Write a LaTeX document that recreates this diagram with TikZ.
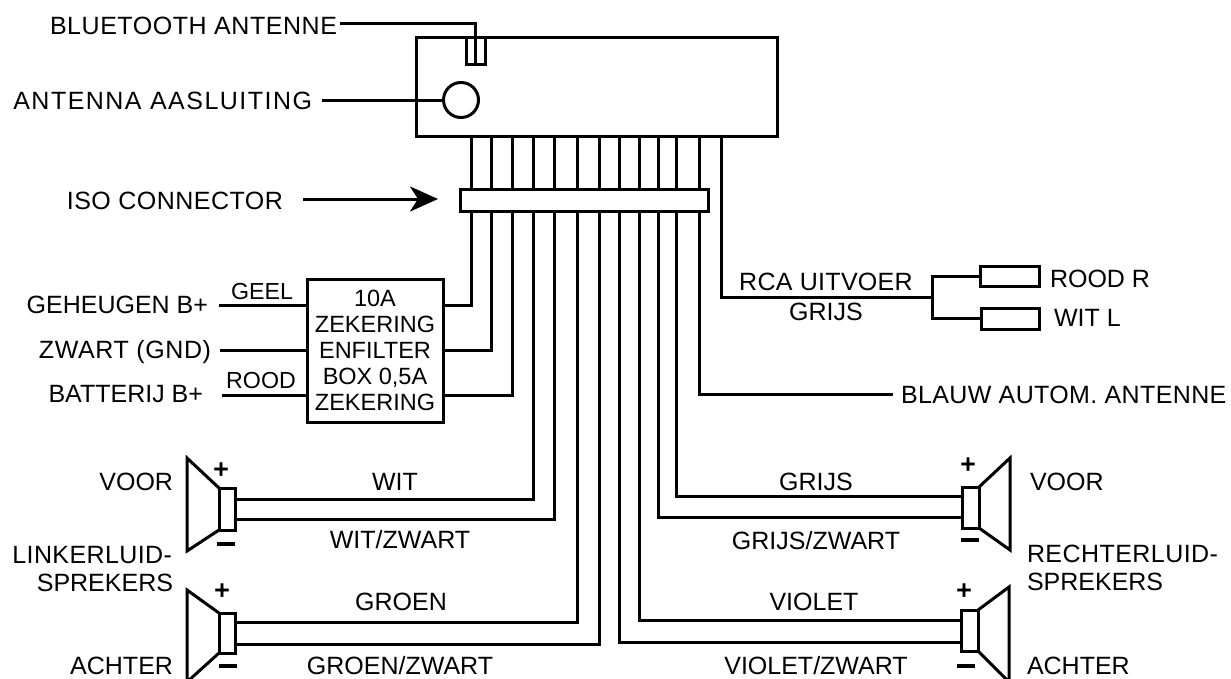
\documentclass[tikz,border=0pt]{standalone}
\usepackage{fontspec}
\setmainfont{Liberation Sans}
\newfontfamily\plusfont[FakeBold=1.5]{DejaVu Sans Bold}
\usetikzlibrary{arrows.meta,shapes.geometric}
\tikzset{
  box/.style={rectangle,draw=black},
  lab/.style={font=\fontsize{25}{25}\selectfont},
  spread/.style={font=\fontsize{25}{25}\selectfont\addfontfeature{LetterSpace=#1}},
  labsmall/.style={font=\fontsize{23.2}{23.2}\selectfont},
  plus/.style={font=\plusfont\fontsize{21}{21}\selectfont},
  minus/.style={rectangle,fill=black,minimum width=18,minimum height=3.5}
}
\begin{document}
\begin{tikzpicture}[x=1pt,y=-1pt,line width=3pt,every node/.style={inner sep=0pt,outer sep=0pt}]
\useasboundingbox (0,0) rectangle (1231,678);
% radio
\node (unit) at (596.5,86.5) [box,minimum width=361,minimum height=99] {};
\node (btplug) at (475.5,50.5) [box,minimum width=19,minimum height=27] {};
\node (antsocket) at (461,100) [circle,draw=black,minimum size=35] {};
\node (btlabel) at (337,34) [spread=2.2,anchor=base east] {BLUETOOTH ANTENNE};
\node (antlabel) at (312,109) [spread=5.9,anchor=base east] {ANTENNA AASLUITING};
\coordinate (btend) at (340,23);
\coordinate (antend) at (322,100);
\draw (btend) -| (btplug.south);
\draw (antend) -- (antsocket.west);
% fuse box
\node (fuse) at (375,350.5) [box,minimum width=136,minimum height=143,align=center,font=\fontsize{23.5}{26}\selectfont] {10A\\ZEKERING\\ENFILTER\\BOX 0,5A\\ZEKERING};
\node (geheugen) at (208,313) [lab,anchor=base east] {GEHEUGEN B+};
\node (zwart) at (211,358) [spread=2.4,anchor=base east] {ZWART (GND)};
\node (batterij) at (203,402) [lab,anchor=base east] {BATTERIJ B+};
\node (geel) at (262,299) [labsmall,anchor=base] {GEEL};
\node (rood) at (261,388) [labsmall,anchor=base] {ROOD};
\coordinate (gehend) at (219,305);
\coordinate (zwaend) at (220,350);
\coordinate (batend) at (222,395);
\draw (gehend) -- (fuse.west |- gehend);
\draw (zwaend) -- (fuse.west |- zwaend);
\draw (batend) -- (fuse.west |- batend);
% left speakers
\node (lfbox) at (227,509) [box,minimum width=16,minimum height=42] {};
\node (lrbox) at (227,633) [box,minimum width=16,minimum height=40] {};
\draw (lfbox.north west) -- (187,458) -- (187,551) -- (lfbox.south west);
\draw (lrbox.north west) -- (187,590) -- (187,682) -- (lrbox.south west);
\node (lfplus) at (221,469) [plus] {+};
\node (lrplus) at (222,590) [plus] {+};
\node (lfminus) at (226,544) [minus] {};
\node (lrminus) at (228,666) [minus] {};
\node (lfvoor) at (173,490) [lab,anchor=base east] {VOOR};
\node (llinker) at (172,563) [spread=1.6,anchor=base east] {LINKERLUID-};
\node (lsprekers) at (173,591) [lab,anchor=base east] {SPREKERS};
\node (lachter) at (173,674) [lab,anchor=base east] {ACHTER};
% right speakers
\node (rfbox) at (970.5,507.5) [box,minimum width=17,minimum height=41] {};
\node (rrbox) at (969.5,630.5) [box,minimum width=17,minimum height=41] {};
\draw (rfbox.north east) -- (1010,458) -- (1010,550) -- (rfbox.south east);
\draw (rrbox.north east) -- (1009,587) -- (1009,682) -- (rrbox.south east);
\node (rfplus) at (968,464) [plus] {+};
\node (rrplus) at (964,590) [plus] {+};
\node (rfminus) at (970,540) [minus] {};
\node (rrminus) at (966,666) [minus] {};
\node (rfvoor) at (1030,490) [lab,anchor=base west] {VOOR};
\node (rrechter) at (1027,562) [spread=1.8,anchor=base west] {RECHTERLUID-};
\node (rsprekers) at (1027,590) [lab,anchor=base west] {SPREKERS};
\node (rachter) at (1027,674) [lab,anchor=base west] {ACHTER};
% rca plugs
\node (rcar) at (1009.5,276) [box,minimum width=59,minimum height=20] {};
\node (rcal) at (1010,318.5) [box,minimum width=58,minimum height=21] {};
\coordinate (rcafork) at (932,297);
\draw (rcafork) |- (rcar.west);
\draw (rcafork) |- (rcal.west);
\node (rcatop) at (826,290) [spread=1.2,anchor=base] {RCA UITVOER};
\node (rcabot) at (826,320) [lab,anchor=base] {GRIJS};
\node (roodr) at (1050,287) [lab,anchor=base west] {ROOD R};
\node (witl) at (1054,326) [lab,anchor=base west] {WIT L};
% wires
\draw (unit.south -| 471,0) |- (fuse.east |- 0,305);
\draw (unit.south -| 491,0) |- (fuse.east |- 0,350);
\draw (unit.south -| 512,0) |- (fuse.east |- 0,395);
\draw (unit.south -| 533,0) |- (lfbox.east |- 0,499);
\draw (unit.south -| 554,0) |- (lfbox.east |- 0,519);
\draw (unit.south -| 577,0) |- (lrbox.east |- 0,622);
\draw (unit.south -| 599,0) |- (lrbox.east |- 0,644);
\draw (unit.south -| 619,0) |- (rrbox.west |- 0,642);
\draw (unit.south -| 639,0) |- (rrbox.west |- 0,620);
\draw (unit.south -| 658,0) |- (rfbox.west |- 0,517);
\draw (unit.south -| 676,0) |- (rfbox.west |- 0,496);
\coordinate (blauwend) at (893,394);
\draw (unit.south -| 699,0) |- (blauwend);
\draw (unit.south -| 721,0) |- (rcafork);
\node (blauw) at (901,403) [spread=1.5,anchor=base west] {BLAUW AUTOM. ANTENNE};
% iso connector
\node (iso) at (584,200) [box,fill=white,minimum width=248,minimum height=22] {};
\node (isolabel) at (283,209) [spread=2,anchor=base east] {ISO CONNECTOR};
\coordinate (isostart) at (303,199);
\coordinate (isotip) at (438,199);
\draw[-{Stealth[length=28pt,width=25pt,inset=8pt]}] (isostart) -- (isotip);
% wire labels
\node (wit) at (395,490) [lab,anchor=base] {WIT};
\node (witz) at (400,548) [lab,anchor=base] {WIT/ZWART};
\node (groen) at (401,610) [lab,anchor=base] {GROEN};
\node (groenz) at (400,674) [lab,anchor=base] {GROEN/ZWART};
\node (grijs) at (816,490) [lab,anchor=base] {GRIJS};
\node (grijsz) at (816,549) [lab,anchor=base] {GRIJS/ZWART};
\node (violet) at (814,610) [lab,anchor=base] {VIOLET};
\node (violetz) at (816,674) [lab,anchor=base] {VIOLET/ZWART};
\end{tikzpicture}
\end{document}
